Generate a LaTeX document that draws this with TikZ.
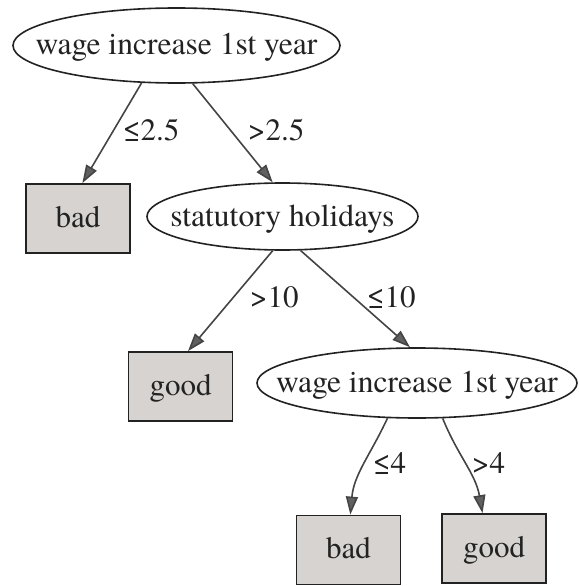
\documentclass[tikz,border=0pt]{standalone}
\usepackage{fontspec}
\setmainfont{TeX Gyre Termes}
\usetikzlibrary{shapes.geometric,arrows.meta}

\definecolor{ink}{HTML}{222222}
\definecolor{edgegray}{HTML}{444444}
\definecolor{leafgray}{HTML}{D6D3D0}

\tikzset{
  test/.style={ellipse, draw=ink, line width=1.6pt, inner sep=0pt, text=ink,
               text height=24pt, text depth=5pt,
               font=\fontsize{31.6}{36}\selectfont},
  leaf/.style={rectangle, draw=ink, line width=1.8pt, fill=leafgray, inner sep=0pt,
               minimum width=104pt, minimum height=69pt, text=ink,
               text height=22pt, text depth=5pt,
               font=\fontsize{31}{36}\selectfont},
  branch/.style={draw=edgegray, line width=1.6pt,
                 -{Triangle[length=18pt,width=12pt,fill=edgegray!85]}},
  cond/.style={text=ink, inner sep=0pt, anchor=base west,
               font=\fontsize{31}{36}\selectfont},
}

\newcommand{\tname}[1]{\makebox[0pt]{#1}}

\begin{document}
\begin{tikzpicture}[x=1pt,y=-1pt]
  \useasboundingbox (0,0) rectangle (578,586);

  % decision nodes
  \node[test, minimum width=327pt, minimum height=75pt] (root) at (176.5,45.5)
       {\tname{wage increase 1st year}};
  \node[test, minimum width=271pt, minimum height=67pt] (hol) at (282.5,216.5)
       {\tname{statutory holidays}};
  \node[test, minimum width=320pt, minimum height=70pt] (wage) at (417,383)
       {\tname{wage increase 1st year}};

  % leaves
  \node[leaf] (bad1)  at (78,218.5)    {bad};
  \node[leaf] (good1) at (180.5,386.5) {good};
  \node[leaf] (bad2)  at (348.5,550)   {bad};
  \node[leaf] (good2) at (494,548.5)   {good};

  % branches
  \draw[branch] (root.227) -- (bad1.83);
  \draw[branch] (root.293) -- (hol.106);
  \draw[branch] (hol.254) -- (good1.78);
  \draw[branch] (hol.298) -- (wage.101);
  \draw[branch] (wage.230) to[out=245,in=85] (bad2.87);
  \draw[branch] (wage.306) to[out=292,in=100] (good2.108);

  % branch conditions
  \node[cond] (c1) at (123,140) {≤2.5};
  \node[cond] (c2) at (248,140) {>2.5};
  \node[cond] (c3) at (250,307) {>10};
  \node[cond] (c4) at (367,307) {≤10};
  \node[cond] (c5) at (373,473) {≤4};
  \node[cond] (c6) at (472,473) {>4};
\end{tikzpicture}
\end{document}
